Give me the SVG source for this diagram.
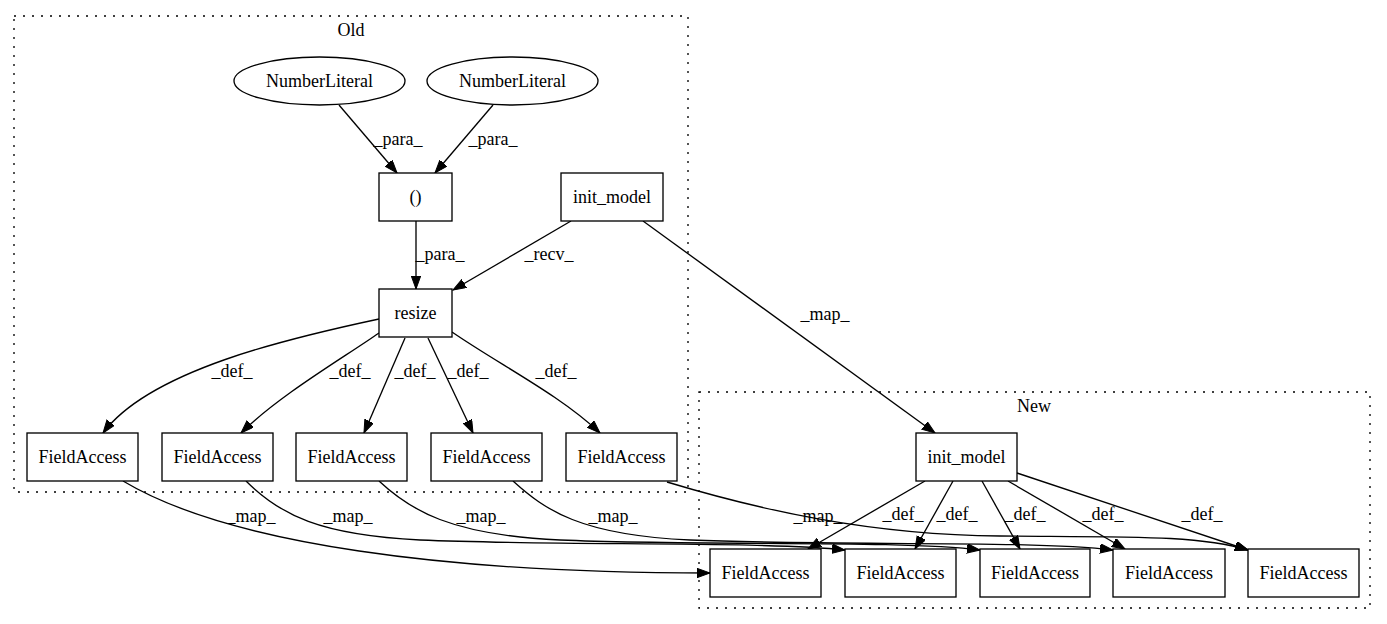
<svg xmlns="http://www.w3.org/2000/svg" width="1387" height="624" viewBox="0 0 1387 624">
<style>
text{font-family:"Liberation Serif","Times New Roman",serif;font-size:18px;fill:#000;text-anchor:middle}
.n{fill:#fff;stroke:#000;stroke-width:1.33}
.c{fill:none;stroke:#000;stroke-width:1.33;stroke-dasharray:2,7}
.e{fill:none;stroke:#000;stroke-width:1.33;marker-end:url(#ah)}
</style>
<defs>
<marker id="ah" markerUnits="userSpaceOnUse" markerWidth="14" markerHeight="10" viewBox="0 0 14 10" refX="13" refY="4.7" orient="auto">
<path d="M0,0 L13,4.7 L0,9.4 z" fill="#000" stroke="#000" stroke-width="1"/>
</marker>
</defs>
<rect width="1387" height="624" fill="#fff"/>
<g id="cluster-old">
<rect class="c" x="14" y="16" width="674" height="476"/>
<text x="351" y="36">Old</text>
</g>
<g id="cluster-new">
<rect class="c" x="699" y="392" width="671" height="216"/>
<text x="1034" y="412">New</text>
</g>
<g id="edges">
<path class="e" d="M339,105 L397,173"/>
<text x="398" y="145">_para_</text>
<path class="e" d="M493,105 L435,173"/>
<text x="493" y="145">_para_</text>
<path class="e" d="M416,221 L416,289"/>
<text x="440" y="260">_para_</text>
<path class="e" d="M571,221 L453,290"/>
<text x="549" y="260">_recv_</text>
<path class="e" d="M643,221 L935,433"/>
<text x="825" y="320">_map_</text>
<path class="e" d="M379,319 C290,338 150,370 103,433"/>
<text x="232" y="377">_def_</text>
<path class="e" d="M379,333 C340,360 280,395 241,433"/>
<text x="350" y="377">_def_</text>
<path class="e" d="M405,338 L364,433"/>
<text x="415" y="377">_def_</text>
<path class="e" d="M428,338 L473,433"/>
<text x="468" y="377">_def_</text>
<path class="e" d="M452,332 C500,365 560,395 600,433"/>
<text x="556" y="377">_def_</text>
<path class="e" d="M123,481 C230,545 450,573 710,573"/>
<text x="251" y="522">_map_</text>
<path class="e" d="M246,481 C280,515 320,535 420,540 C560,546 760,541 845,550"/>
<text x="348" y="522">_map_</text>
<path class="e" d="M379,481 C410,510 450,535 560,540 C700,546 900,540 980,550"/>
<text x="481" y="522">_map_</text>
<path class="e" d="M513,481 C545,510 580,535 690,540 C830,546 1030,540 1113,550"/>
<text x="613" y="522">_map_</text>
<path class="e" d="M667,482 C760,510 870,535 1000,536 C1130,537 1200,535 1248,550"/>
<text x="818" y="522">_map_</text>
<path class="e" d="M925,481 L808,549"/>
<text x="903" y="520">_def_</text>
<path class="e" d="M953,481 L915,549"/>
<text x="957" y="520">_def_</text>
<path class="e" d="M982,481 L1020,549"/>
<text x="1025" y="520">_def_</text>
<path class="e" d="M1008,481 L1125,549"/>
<text x="1103" y="520">_def_</text>
<path class="e" d="M1017,473 L1248,550"/>
<text x="1202" y="520">_def_</text>
</g>
<g id="nl1"><ellipse class="n" cx="319.5" cy="81" rx="85.5" ry="24"/><text x="319.5" y="87">NumberLiteral</text></g>
<g id="nl2"><ellipse class="n" cx="512.5" cy="81" rx="85.5" ry="24"/><text x="512.5" y="87">NumberLiteral</text></g>
<g id="paren"><rect class="n" x="379" y="173" width="73" height="48"/><text x="415.5" y="203">()</text></g>
<g id="init-old"><rect class="n" x="561" y="173" width="102" height="48"/><text x="612" y="203">init_model</text></g>
<g id="resize"><rect class="n" x="379" y="289" width="73" height="48"/><text x="415.5" y="319">resize</text></g>
<g id="fa-old-1"><rect class="n" x="27" y="433" width="111" height="48"/><text x="82.5" y="463">FieldAccess</text></g>
<g id="fa-old-2"><rect class="n" x="162" y="433" width="111" height="48"/><text x="217.5" y="463">FieldAccess</text></g>
<g id="fa-old-3"><rect class="n" x="296" y="433" width="111" height="48"/><text x="351.5" y="463">FieldAccess</text></g>
<g id="fa-old-4"><rect class="n" x="431" y="433" width="111" height="48"/><text x="486.5" y="463">FieldAccess</text></g>
<g id="fa-old-5"><rect class="n" x="566" y="433" width="111" height="48"/><text x="621.5" y="463">FieldAccess</text></g>
<g id="init-new"><rect class="n" x="916" y="433" width="101" height="48"/><text x="966.5" y="463">init_model</text></g>
<g id="fa-new-1"><rect class="n" x="710" y="549" width="111" height="48"/><text x="765.5" y="579">FieldAccess</text></g>
<g id="fa-new-2"><rect class="n" x="845" y="549" width="111" height="48"/><text x="900.5" y="579">FieldAccess</text></g>
<g id="fa-new-3"><rect class="n" x="980" y="549" width="110" height="48"/><text x="1035" y="579">FieldAccess</text></g>
<g id="fa-new-4"><rect class="n" x="1113" y="549" width="112" height="48"/><text x="1169" y="579">FieldAccess</text></g>
<g id="fa-new-5"><rect class="n" x="1248" y="549" width="111" height="48"/><text x="1303.5" y="579">FieldAccess</text></g>
</svg>
